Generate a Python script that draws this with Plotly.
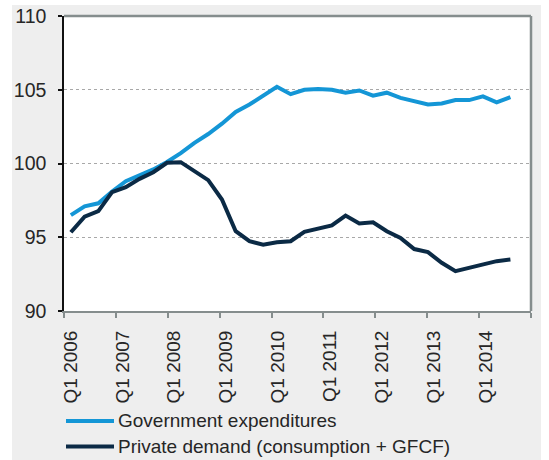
import plotly.graph_objects as go

quarters = [f"Q{q} {y}" for y in range(2006, 2015) for q in range(1, 5)][:33]
gov = [96.5, 97.1, 97.3, 98.1, 98.8, 99.2, 99.6, 100.1, 100.7, 101.4, 102.0,
       102.7, 103.5, 104.0, 104.6, 105.2, 104.7, 105.0, 105.05, 105.0, 104.8,
       104.95, 104.6, 104.8, 104.45, 104.2, 104.0, 104.07, 104.3, 104.3,
       104.55, 104.15, 104.5]
priv = [95.34, 96.4, 96.77, 98.06, 98.4, 98.96, 99.41, 100.05, 100.09, 99.48,
        98.87, 97.56, 95.41, 94.73, 94.5, 94.66, 94.73, 95.37, 95.57, 95.8,
        96.47, 95.93, 96.02, 95.41, 94.96, 94.2, 93.99, 93.27, 92.7, 92.93,
        93.15, 93.38, 93.49]
year_labels = [f"Q1 {y}" for y in range(2006, 2015)]
y_ticks = [90, 95, 100, 105, 110]
names = ["Government expenditures", "Private demand (consumption + GFCF)"]
colors = ["#1496d6", "#0b2a45"]

FONT = "Liberation Sans, Arial, sans-serif"
W, H = 549, 460
ml, mr, mt, mb = 64, 18, 16, 149
pw, ph = W - ml - mr, H - mt - mb

n_slots = 34
grid_slots = 36
scale = n_slots / grid_slots
label_pos = [-0.5 + (0.5 + 4 * k) * scale for k in range(len(year_labels))]

fig = go.Figure()
for vals, name, col in [(gov, names[0], colors[0]), (priv, names[1], colors[1])]:
    fig.add_trace(go.Scatter(x=list(range(len(quarters))), y=vals, mode="lines",
                             name=name, text=quarters,
                             line=dict(color=col, width=4),
                             showlegend=False))

def px2paper_x(p):
    return (p - ml) / pw

def px2paper_y(p):
    return 1 - (p - mt) / ph

shapes = [
    dict(type="rect", xref="paper", yref="paper", layer="below",
         x0=px2paper_x(12), x1=px2paper_x(541), y0=px2paper_y(462), y1=px2paper_y(5),
         fillcolor="#eeeeee", line=dict(width=0)),
    dict(type="rect", xref="paper", yref="paper", layer="below",
         x0=0, x1=1, y0=0, y1=1, fillcolor="white", line=dict(width=0)),
    dict(type="line", xref="paper", yref="paper", x0=0, x1=1, y0=1, y1=1,
         line=dict(color="#858d8d", width=2.5)),
    dict(type="line", xref="paper", yref="paper", x0=1, x1=1, y0=0, y1=1,
         line=dict(color="#858d8d", width=2.5)),
]
annotations = []
leg_y = [421, 446.5]
for i in range(2):
    shapes.append(dict(type="line", xref="paper", yref="paper",
                       x0=px2paper_x(66), x1=px2paper_x(114),
                       y0=px2paper_y(leg_y[i]), y1=px2paper_y(leg_y[i]),
                       line=dict(color=colors[i], width=4)))
    annotations.append(dict(xref="paper", yref="paper", x=px2paper_x(116),
                            y=px2paper_y(leg_y[i]), xanchor="left", yanchor="middle",
                            text=names[i], showarrow=False,
                            font=dict(family=FONT, size=19, color="#262626")))

fig.update_layout(
    width=W, height=H,
    margin=dict(l=ml, r=mr, t=mt, b=mb, autoexpand=False),
    paper_bgcolor="white", plot_bgcolor="rgba(0,0,0,0)",
    shapes=shapes, annotations=annotations,
    xaxis=dict(range=[-0.5, n_slots - 0.5], automargin=False,
               tickmode="array", tickvals=label_pos, ticktext=year_labels,
               tickangle=-90, ticks="", ticklabelstandoff=10,
               tickfont=dict(family=FONT, size=19, color="#262626"),
               minor=dict(tick0=-0.5, dtick=4 * scale, ticks="outside",
                          ticklen=5, tickwidth=2, tickcolor="#858d8d",
                          showgrid=False),
               showgrid=False, zeroline=False, showline=True,
               linecolor="#858d8d", linewidth=2),
    yaxis=dict(range=[90, 110], tickmode="array", tickvals=y_ticks,
               automargin=False,
               ticks="outside", ticklen=4, tickcolor="#111", tickwidth=1.5,
               showline=True, linecolor="#111", linewidth=1.5,
               showgrid=True, gridcolor="#a8a8a8", griddash="dot", gridwidth=1,
               zeroline=False, ticklabelstandoff=8,
               tickfont=dict(family=FONT, size=19.5, color="#262626")),
)

fig.write_html("out.html", config={"displayModeBar": False},
               post_script="document.body.style.margin='0px';document.body.style.overflow='hidden';")
